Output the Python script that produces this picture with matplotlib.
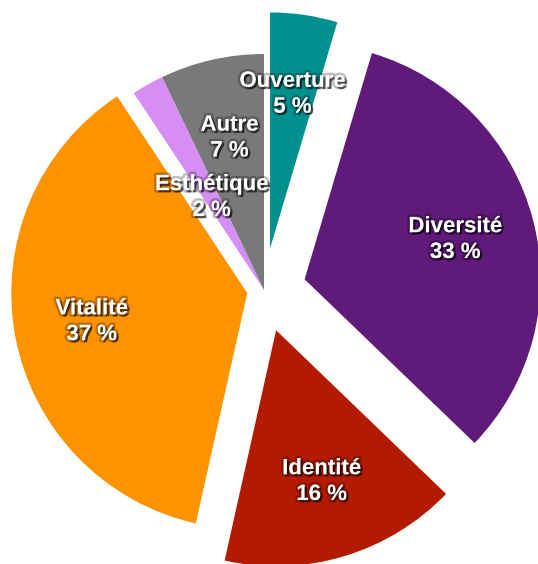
import numpy as np
import matplotlib.pyplot as plt
import matplotlib.patheffects as pe

labels = ["Ouverture", "Diversité", "Identité", "Vitalité", "Esthétique", "Autre"]
values = [4.6, 32.6, 16.3, 37.2, 2.2, 7.1]
colors = ["#00918f", "#5f1a7a", "#b31b00", "#fe9300", "#d68ef5", "#797979"]
explode = [42, 42, 42, 17, 0, 0]
label_dist = [0.66, 0.66, 0.67, 0.67, 0.45, 0.66]

W, H = 538, 564
fig = plt.figure(figsize=(W / 100, H / 100), dpi=100)
ax = fig.add_axes([0, 0, 1, 1])

R = 236
wedges, _ = ax.pie(values, colors=colors, explode=explode, radius=R,
                   center=(264, H - 290), startangle=90, counterclock=False,
                   frame=True, normalize=True, wedgeprops=dict(linewidth=0))
ax.set_xlim(0, W)
ax.set_ylim(0, H)
ax.set_aspect("equal")
ax.axis("off")

shadow = [pe.Stroke(linewidth=3.5, foreground=(0, 0, 0, 0.25)),
          pe.SimplePatchShadow(offset=(1.5, -1.5), shadow_rgbFace="black", alpha=0.6),
          pe.Normal()]

for w, name, v, d in zip(wedges, labels, values, label_dist):
    t = np.deg2rad((w.theta1 + w.theta2) / 2)
    cx, cy = w.center
    x = cx + d * w.r * np.cos(t)
    y = cy + d * w.r * np.sin(t)
    ax.text(x, y, f"{name}\n{round(v)} %", ha="center", va="center", color="white",
            fontsize=16, fontweight="bold", family="Liberation Sans",
            linespacing=1.3, path_effects=shadow)

fig.savefig("out.png", dpi=100)
